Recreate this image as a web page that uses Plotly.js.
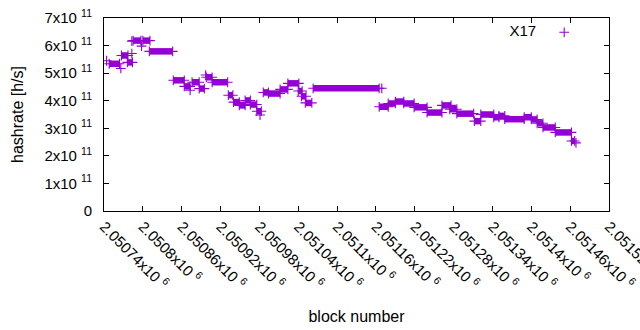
<!DOCTYPE html>
<html>
<head>
<meta charset="utf-8">
<script src="https://cdn.plot.ly/plotly-3.0.1.min.js"></script>
<style>html,body{margin:0;padding:0;background:#fff;}#chart{width:640px;height:330px;}</style>
</head>
<body>
<div id="chart"></div>
<script>
// Flat runs of consecutive blocks with the same hashrate estimate
var runStart = [2050748,2050767,2050776,2050785,2050800,2050810,2050847,2050864,2050876,2050887,2050898,2050907,2050932,2050940,2050949,2050958,2050966,2050976,2050986,2050994,2051012,2051024,2051040,2051045,2051051,2051063,2051165,2051179,2051190,2051203,2051219,2051239,2051262,2051274,2051285,2051312,2051322,2051342,2051350,2051359,2051389,2051400,2051409,2051418,2051437,2051462];
var runEnd   = [2050764,2050777,2050784,2050797,2050811,2050846,2050864,2050873,2050887,2050895,2050907,2050931,2050939,2050949,2050958,2050966,2050976,2050983,2050994,2051012,2051024,2051041,2051046,2051052,2051061,2051165,2051179,2051190,2051203,2051219,2051239,2051262,2051276,2051285,2051311,2051322,2051342,2051350,2051359,2051389,2051400,2051409,2051418,2051437,2051462,2051467];
var runValue = [5.34e11,5.64e11,5.39e11,6.18e11,6.18e11,5.79e11,4.74e11,4.52e11,4.67e11,4.44e11,4.85e11,4.67e11,4.20e11,3.95e11,3.83e11,4.01e11,3.86e11,3.62e11,4.30e11,4.26e11,4.41e11,4.63e11,4.35e11,4.16e11,3.92e11,4.45e11,3.78e11,3.90e11,3.97e11,3.90e11,3.76e11,3.57e11,3.83e11,3.69e11,3.53e11,3.26e11,3.50e11,3.40e11,3.45e11,3.33e11,3.40e11,3.32e11,3.18e11,3.03e11,2.85e11,2.54e11];
// Isolated blocks off the flat runs
var pointBlock = [2050744,2050766,2050783,2050783,2050798,2050873,2050897,2050981,2051169,2051469];
var pointValue = [5.45e11,5.17e11,5.71e11,6.16e11,5.98e11,4.38e11,4.93e11,3.48e11,4.45e11,2.47e11];
// Axis ticks
var xTickVals = [2050740,2050800,2050860,2050920,2050980,2051040,2051100,2051160,2051220,2051280,2051340,2051400,2051460,2051520];
var xTickText = ["2.05074","2.0508","2.05086","2.05092","2.05098","2.05104","2.0511","2.05116","2.05122","2.05128","2.05134","2.0514","2.05146","2.05152"];
var yTickVals = [0,1e11,2e11,3e11,4e11,5e11,6e11,7e11];
var yTickText = ["0","1x10","2x10","3x10","4x10","5x10","6x10","7x10"];
var seriesName = "X17";

var COLOR = "#9400d3";
var FONT = "Liberation Sans, Arial, sans-serif";

var bx = [], by = [], mx = [], my = [];
for (var i = 0; i < runStart.length; i++) {
  bx.push(runStart[i], runEnd[i], null);
  by.push(runValue[i], runValue[i], null);
  mx.push(runStart[i], runEnd[i]);
  my.push(runValue[i], runValue[i]);
}
for (var j = 0; j < pointBlock.length; j++) { mx.push(pointBlock[j]); my.push(pointValue[j]); }

var traces = [
  {x: bx, y: by, type: "scatter", mode: "lines", line: {color: COLOR, width: 6.5}, connectgaps: false, showlegend: false, hoverinfo: "skip"},
  {x: mx, y: my, type: "scatter", mode: "markers", name: seriesName,
   marker: {symbol: "cross-thin-open", size: 7, color: COLOR, line: {color: COLOR, width: 1.1}}}
];

var layout = {
  width: 640, height: 330,
  margin: {l: 104, r: 31, t: 18, b: 119},
  paper_bgcolor: "#fff", plot_bgcolor: "#fff",
  font: {family: FONT, size: 15, color: "#000"},
  showlegend: true,
  legend: {x: 0.799, xanchor: "left", y: 1.01, yanchor: "top", bgcolor: "rgba(0,0,0,0)",
           font: {size: 15, color: "rgba(0,0,0,0)"},
           title: {text: seriesName, side: "left", font: {size: 15, color: "#000"}}},
  xaxis: {
    range: [2050740, 2051520], tickmode: "array", tickvals: xTickVals,
    ticktext: xTickText.map(function(t){return t + "x10 <sup>6</sup>";}),
    tickangle: 45, ticks: "inside", ticklen: 5, tickcolor: "#000", ticklabeloverflow: "allow",
    showline: true, linecolor: "#000", linewidth: 1, mirror: "ticks",
    showgrid: false, zeroline: false,
    title: {text: "block number", font: {size: 16}, standoff: 19}
  },
  yaxis: {
    range: [0, 7e11], tickmode: "array", tickvals: yTickVals,
    ticktext: yTickText.map(function(t, k){return k === 0 ? t : t + " <sup>11</sup>";}),
    ticks: "inside", ticklen: 5, tickcolor: "#000", ticklabelstandoff: 8,
    showline: true, linecolor: "#000", linewidth: 1, mirror: "ticks",
    showgrid: false, zeroline: false,
    title: {text: "hashrate [h/s]", font: {size: 16}, standoff: 16}
  }
};

Plotly.newPlot("chart", traces, layout, {displayModeBar: false, staticPlot: true});
</script>
</body>
</html>
